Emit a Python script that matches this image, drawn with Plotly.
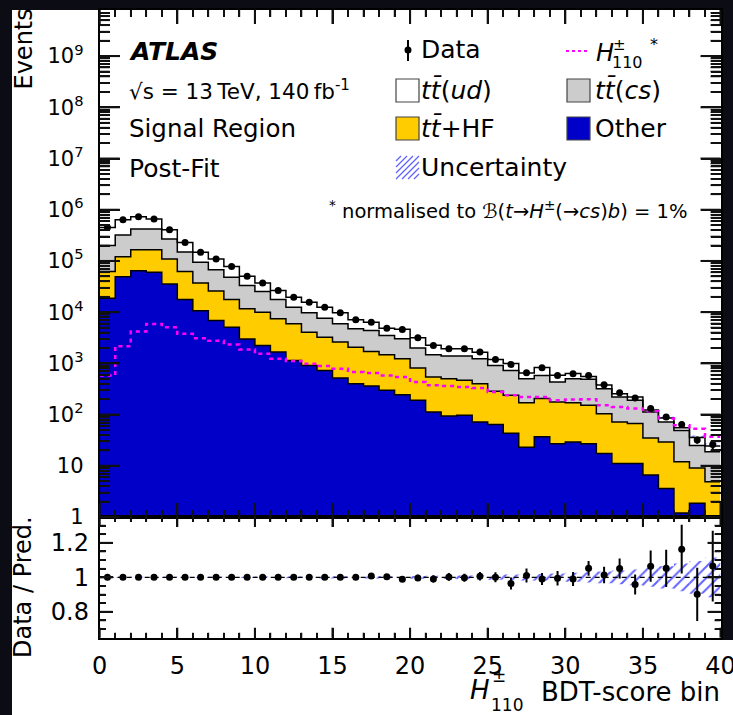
import math
import plotly.graph_objects as go

W, H = 733, 715

# Event yields per BDT-score bin (40 bins, edges 0..40)
data = [450000, 636000, 730000, 660000, 406000, 230000, 147000, 109000, 78000, 50000,
        37200, 26400, 19500, 15600, 12500, 9690, 7070, 6370, 4870, 4600,
        3160, 2240, 1930, 1930, 1660, 1190, 955, 658, 823, 582,
        629, 582, 384, 268, 211, 131, 90, 64, 32, 26]

other = [18600, 49000, 64500, 60000, 35600, 17600, 10700, 6900, 5100, 3000,
         2240, 1660, 1140, 912, 729, 516, 401, 361, 297, 245,
         190, 112, 94, 97, 72, 64, 43, 23, 37, 27,
         29, 27, 17.4, 11.1, 11.1, 6.6, 3.6, 1.2, 1.85, 0]

tt_hf = [43400, 72000, 101500, 106000, 73400, 44400, 26300, 19100, 12500, 8600,
         7730, 5740, 4780, 3148, 2521, 2084, 1669, 1349, 1173, 985,
         619, 428, 408, 369, 329, 220, 195, 148, 168, 149,
         142, 125, 86.6, 60.9, 55.9, 28.4, 25.4, 10.8, 7.25, 4.9]

tt_cs = [138000, 199000, 254000, 254000, 158000, 88000, 57000, 41500, 30400, 21400,
         15230, 10200, 6580, 5630, 4370, 3320, 2650, 2670, 2030, 1780,
         1191, 930, 888, 924, 829, 628, 491, 331, 377, 256,
         331, 335, 217, 148, 123, 77, 43, 37, 15.9, 13.8]

tt_ud = [250000, 316000, 310000, 240000, 139000, 80000, 53000, 41500, 30000, 17000,
         12000, 8800, 7000, 5910, 4880, 3770, 2350, 1940, 1350, 1640,
         1170, 790, 535, 545, 420, 278, 261, 149, 249, 153,
         133, 66, 58, 35, 30, 11, 13.5, 6, 10.5, 5.7]

signal = [582, 2170, 4190, 5900, 5080, 3780, 3100, 2760, 2340, 1870,
          1540, 1230, 1107, 984, 885, 787, 676, 646, 582, 540,
          432, 372, 361, 345, 330, 276, 238, 220, 220, 190,
          198, 199, 152, 141, 131, 116, 84, 62, 53, 37]

# relative statistical error of data and relative uncertainty of the prediction
ratio_err = [0.003, 0.003, 0.003, 0.003, 0.003, 0.003, 0.004, 0.004, 0.004, 0.005,
             0.006, 0.007, 0.008, 0.008, 0.009, 0.010, 0.012, 0.013, 0.015, 0.015,
             0.018, 0.021, 0.023, 0.023, 0.025, 0.029, 0.035, 0.040, 0.035, 0.042,
             0.040, 0.043, 0.048, 0.058, 0.058, 0.090, 0.108, 0.141, 0.154, 0.205]

unc = [0.004, 0.004, 0.004, 0.004, 0.004, 0.004, 0.004, 0.004, 0.004, 0.004,
       0.005, 0.005, 0.005, 0.005, 0.006, 0.006, 0.006, 0.007, 0.007, 0.008,
       0.008, 0.009, 0.010, 0.011, 0.012, 0.014, 0.016, 0.018, 0.020, 0.023,
       0.026, 0.030, 0.034, 0.040, 0.046, 0.055, 0.065, 0.080, 0.095, 0.115]

# axis ticks
x_major = [0, 5, 10, 15, 20, 25, 30, 35, 40]
x_minor = [v for v in range(41) if v % 5]
y_ticks = [1, 10, 1e2, 1e3, 1e4, 1e5, 1e6, 1e7, 1e8, 1e9]
y_ticktext = ["1", "10", "10<sup>2</sup>", "10<sup>3</sup>", "10<sup>4</sup>",
              "10<sup>5</sup>", "10<sup>6</sup>", "10<sup>7</sup>", "10<sup>8</sup>",
              "10<sup>9</sup>"]
y_minor = [k * 10 ** n for n in range(0, 10) for k in range(2, 10) if k * 10 ** n < 10 ** 9.9]
r_ticks = [0.8, 1.0, 1.2]
r_ticktext = ["0.8", "1", "1.2"]
r_minor = [0.70, 0.75, 0.85, 0.90, 0.95, 1.05, 1.10, 1.15, 1.25, 1.30]

FONT = "DejaVu Sans, Liberation Sans, sans-serif"
BLUE = "#0000c8"
YELLOW = "#ffcc00"
GREY = "#cccccc"
MAGENTA = "#ff00ff"
HATCH = "rgba(70,70,255,0.85)"
TICK = "#111111"

nb = len(data)
edges = list(range(nb + 1))
centers = [i + 0.5 for i in range(nb)]

# cumulative stack tops
s_other = [max(v, 1e-3) for v in other]
s_hf = [a + b for a, b in zip(other, tt_hf)]
s_cs = [a + b for a, b in zip(s_hf, tt_cs)]
s_tot = [a + b for a, b in zip(s_cs, tt_ud)]
ratio = [d / t for d, t in zip(data, s_tot)]


def step(vals):
    return list(vals) + [vals[-1]]


# pixel -> paper helpers (margins are zero, so paper == figure)
def px(x):
    return x / W


def py(y):
    return 1 - y / H


X0, X1 = 99.7, 720.5
Y_TOP, Y_MID, Y_BOT = 10, 517, 637.7
XR = (0, 40)
YR_LOG = (0, 9.9)
RR = (0.65, 1.35)
PPX = (X1 - X0) / (XR[1] - XR[0])                # pixels per x unit
PPD = (Y_MID - Y_TOP) / (YR_LOG[1] - YR_LOG[0])  # pixels per decade
PPR = (Y_BOT - Y_MID) / (RR[1] - RR[0])          # pixels per ratio unit

# tick lengths in pixels: (major, minor)
LEN_MAIN_X = (14, 7)
LEN_MAIN_Y = (20, 10)
LEN_RATIO_X = (10, 5)
LEN_RATIO_Y = (13, 6)

fig = go.Figure()

# stacked step histograms in the main panel
fig.add_trace(go.Scatter(x=edges, y=[1e-3] * (nb + 1), mode="lines", line=dict(width=0),
                         line_shape="hv", showlegend=False, hoverinfo="skip",
                         xaxis="x", yaxis="y"))
for vals, col in [(s_other, BLUE), (s_hf, YELLOW), (s_cs, GREY), (s_tot, "white")]:
    fig.add_trace(go.Scatter(x=edges, y=step(vals), mode="lines", line_shape="hv",
                             line=dict(color="black", width=1.5), fill="tonexty",
                             fillcolor=col, showlegend=False, xaxis="x", yaxis="y"))

# prediction uncertainty band (main panel)
fig.add_trace(go.Bar(x=centers, y=[t * 2 * u for t, u in zip(s_tot, unc)],
                     base=[t * (1 - u) for t, u in zip(s_tot, unc)], width=1,
                     marker=dict(color=HATCH, line=dict(width=0),
                                 pattern=dict(shape="/", size=7, solidity=0.25, fillmode="replace")),
                     showlegend=False, xaxis="x", yaxis="y"))

# signal, normalised to 1% branching ratio
fig.add_trace(go.Scatter(x=edges, y=step(signal), mode="lines", line_shape="hv",
                         line=dict(color=MAGENTA, width=2.5, dash="4px,4px"),
                         showlegend=False, xaxis="x", yaxis="y"))

# data points
fig.add_trace(go.Scatter(x=centers, y=data, mode="markers",
                         marker=dict(color="black", size=7),
                         error_y=dict(type="data", array=[d * e for d, e in zip(data, ratio_err)],
                                      color="black", thickness=2, width=0),
                         showlegend=False, xaxis="x", yaxis="y"))

# ratio panel
fig.add_trace(go.Bar(x=centers, y=[2 * u for u in unc], base=[1 - u for u in unc], width=1,
                     marker=dict(color=HATCH, line=dict(width=0),
                                 pattern=dict(shape="/", size=8, solidity=0.25, fillmode="replace")),
                     showlegend=False, xaxis="x2", yaxis="y2"))
fig.add_trace(go.Scatter(x=list(XR), y=[1, 1], mode="lines",
                         line=dict(color="black", width=1.2, dash="5px,4px"),
                         showlegend=False, xaxis="x2", yaxis="y2"))
fig.add_trace(go.Scatter(x=centers, y=ratio, mode="markers",
                         marker=dict(color="black", size=7),
                         error_y=dict(type="data", array=ratio_err, color="black",
                                      thickness=2, width=0),
                         showlegend=False, xaxis="x2", yaxis="y2"))


def axis(lens, minor, **kw):
    base = dict(showline=True, linecolor="black", linewidth=1.8, mirror="allticks",
                ticks="inside", ticklen=lens[0], tickwidth=2, tickcolor=TICK,
                showgrid=False, zeroline=False, automargin=False, layer="above traces",
                minor=dict(ticks="inside", ticklen=lens[1], tickwidth=1.6, tickcolor=TICK,
                           showgrid=False, **minor))
    base.update(kw)
    return base


fig.update_layout(
    width=W, height=H, margin=dict(l=0, r=0, t=0, b=0, autoexpand=False),
    paper_bgcolor="#0c0d14", plot_bgcolor="white", barmode="overlay",
    font=dict(family=FONT, color="black"),
    xaxis=axis(LEN_MAIN_X, dict(tickmode="array", tickvals=x_minor),
               domain=[px(X0), px(X1)], range=list(XR), tickmode="array", tickvals=x_major,
               showticklabels=False, anchor="y"),
    yaxis=axis(LEN_MAIN_Y, dict(tickmode="array", tickvals=y_minor),
               domain=[py(Y_MID), py(Y_TOP)], type="log", range=list(YR_LOG),
               tickmode="array", tickvals=y_ticks, ticktext=y_ticktext,
               tickfont=dict(size=21, family=FONT, color="black"),
               ticklabelstandoff=10, anchor="x"),
    xaxis2=axis(LEN_RATIO_X, dict(tickmode="array", tickvals=x_minor),
                domain=[px(X0), px(X1)], range=list(XR), tickmode="array", tickvals=x_major,
                ticktext=[str(v) for v in x_major],
                tickfont=dict(size=24, family=FONT, color="black"), anchor="y2",
                ticklabeloverflow="allow", ticklabelstandoff=6),
    yaxis2=axis(LEN_RATIO_Y, dict(tickmode="array", tickvals=r_minor),
                domain=[py(Y_BOT), py(Y_MID)], range=list(RR),
                tickmode="array", tickvals=r_ticks, ticktext=r_ticktext,
                tickfont=dict(size=24, family=FONT, color="black"), anchor="x2",
                ticklabelstandoff=4),
)

shapes = []
# white page inside the dark frame
shapes.append(dict(type="rect", xref="paper", yref="paper", x0=px(12), x1=px(722),
                   y0=py(715), y1=py(10), fillcolor="white", line=dict(width=0), layer="below"))
shapes.append(dict(type="rect", xref="paper", yref="paper", x0=px(722), x1=px(733),
                   y0=py(715), y1=py(640), fillcolor="white", line=dict(width=0), layer="below"))


# ROOT-style inward tick marks drawn on top of the filled histograms, placed with
# the same linear / log mappings as the axis domains and ranges above
def xpix(v):
    return X0 + (v - XR[0]) * PPX


def ypix_main(v):
    return Y_MID - (math.log10(v) - YR_LOG[0]) * PPD


def ypix_ratio(v):
    return Y_BOT - (v - RR[0]) * PPR


def tick(xa, ya, xb, yb, width):
    shapes.append(dict(type="line", xref="paper", yref="paper", x0=px(xa), y0=py(ya),
                       x1=px(xb), y1=py(yb), layer="above",
                       line=dict(color=TICK, width=width)))


for vals, ln, wdt in [(x_major, LEN_MAIN_X[0], 2), (x_minor, LEN_MAIN_X[1], 1.6)]:
    for v in vals:
        tick(xpix(v), Y_MID, xpix(v), Y_MID - ln, wdt)
        tick(xpix(v), Y_TOP, xpix(v), Y_TOP + ln, wdt)
for vals, ln, wdt in [(y_ticks, LEN_MAIN_Y[0], 2), (y_minor, LEN_MAIN_Y[1], 1.6)]:
    for v in vals:
        tick(X0, ypix_main(v), X0 + ln, ypix_main(v), wdt)
        tick(X1, ypix_main(v), X1 - ln, ypix_main(v), wdt)
for vals, ln, wdt in [(x_major, LEN_RATIO_X[0], 2), (x_minor, LEN_RATIO_X[1], 1.6)]:
    for v in vals:
        tick(xpix(v), Y_BOT, xpix(v), Y_BOT - ln, wdt)
        tick(xpix(v), Y_MID, xpix(v), Y_MID + ln, wdt)
for vals, ln, wdt in [(r_ticks, LEN_RATIO_Y[0], 2), (r_minor, LEN_RATIO_Y[1], 1.6)]:
    for v in vals:
        tick(X0, ypix_ratio(v), X0 + ln, ypix_ratio(v), wdt)
        tick(X1, ypix_ratio(v), X1 - ln, ypix_ratio(v), wdt)

# legend symbols
shapes.append(dict(type="line", xref="paper", yref="paper", x0=px(408), x1=px(408),
                   y0=py(61), y1=py(40), line=dict(color="black", width=2)))
shapes.append(dict(type="circle", xref="paper", yref="paper", x0=px(404.5), x1=px(411.5),
                   y0=py(53.5), y1=py(46.5), fillcolor="black", line=dict(color="black", width=0)))
shapes.append(dict(type="line", xref="paper", yref="paper", x0=px(566), x1=px(590),
                   y0=py(51), y1=py(51), line=dict(color=MAGENTA, width=2, dash="3px,3px")))
for (x0, y0, col) in [(396, 79, "white"), (567, 79, GREY), (396, 117, YELLOW), (567, 117, BLUE)]:
    shapes.append(dict(type="rect", xref="paper", yref="paper", x0=px(x0), x1=px(x0 + 23),
                       y0=py(y0 + 23), y1=py(y0), fillcolor=col,
                       line=dict(color="#444444", width=1.2)))
# hatched uncertainty symbol
hx0, hy0, hsz = 396, 156, 23
for k in range(-3, 4):
    xa, ya = hx0 + k * 6, hy0 + hsz
    xb, yb = xa + hsz, hy0
    # clip the diagonal to the square
    if xa < hx0:
        ya -= (hx0 - xa)
        xa = hx0
    if xb > hx0 + hsz:
        yb += (xb - hx0 - hsz)
        xb = hx0 + hsz
    if xb > xa:
        shapes.append(dict(type="line", xref="paper", yref="paper", x0=px(xa), y0=py(ya),
                           x1=px(xb), y1=py(yb), line=dict(color=HATCH, width=1.3)))
fig.update_layout(shapes=shapes)


def label(x, y, text, size, xanchor="left", yanchor="middle", angle=0):
    return dict(x=px(x), y=py(y), xref="paper", yref="paper", text=text, showarrow=False,
                xanchor=xanchor, yanchor=yanchor, textangle=angle, borderpad=0,
                font=dict(size=size, family=FONT, color="black"))


THIN = "\u2009"
ann = [
    label(128, 51, "<b><i>ATLAS</i></b>", 25),
    label(128, 90, f"√s = 13{THIN}TeV, 140{THIN}fb<sup>-1</sup>", 21.5),
    label(128, 129, "Signal Region", 24.5),
    label(128, 168, "Post-Fit", 25),
    label(420, 50, "Data", 25),
    label(420, 90, "<i>t</i><i>t̄</i>(<i>ud</i>)", 25),
    label(420, 128, "<i>t</i><i>t̄</i>+HF", 25),
    label(420, 167, "Uncertainty", 25),
    label(594, 90, "<i>t</i><i>t̄</i>(<i>cs</i>)", 25),
    label(594, 128, "Other", 25),
    label(595, 53, "<i>H</i>", 24),
    label(612, 45, "±", 15),
    label(611, 63, "110", 16),
    label(649, 45, "*", 16),
    label(688, 210, "<sup>*</sup> normalised to ℬ(<i>t</i>→<i>H</i><sup>±</sup>(→<i>cs</i>)<i>b</i>) = 1%",
          19.5, xanchor="right"),
    # axis titles
    label(23, 8, "Events", 24, xanchor="center", yanchor="top", angle=-90),
    label(23, 587, "Data / Pred.", 24, xanchor="center", angle=-90),
    label(721, 692, "BDT-score bin", 26, xanchor="right"),
    label(469, 690, "<i>H</i>", 26),
    label(491, 676, "±", 17),
    label(490, 705, "110", 17),
]
fig.update_layout(annotations=ann)

fig.write_html("out.html")
